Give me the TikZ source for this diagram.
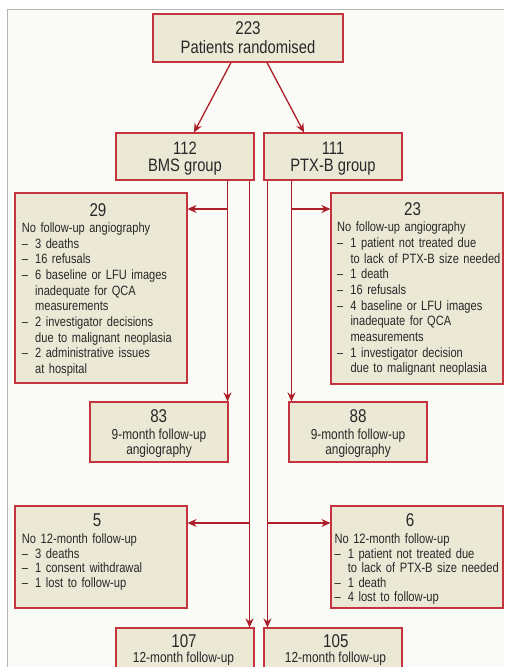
\documentclass[tikz,border=0pt]{standalone}
\usepackage{fontspec}
\setmainfont{Liberation Sans}[FakeStretch=0.82]
\usetikzlibrary{arrows.meta,calc}
\definecolor{boxred}{RGB}{196,52,62}
\definecolor{arrred}{RGB}{172,30,40}
\definecolor{boxfill}{RGB}{236,232,214}
\definecolor{bgcol}{RGB}{250,250,246}
\definecolor{framegray}{RGB}{180,180,180}
\definecolor{txt}{RGB}{40,40,40}
\newcommand\itm[1]{\par\hangindent=13.3pt\hangafter=1\noindent\makebox[13.3pt][l]{–}#1\par}
\begin{document}
\begin{tikzpicture}[x=1pt,y=-1pt,
  box/.style={draw=boxred,fill=boxfill,line width=1.1pt,inner sep=0pt},
  big/.style={anchor=base,inner sep=0pt,text=txt,font=\fontsize{18.5}{20}\selectfont},
  mid/.style={anchor=base,inner sep=0pt,text=txt,font=\fontsize{14.5}{15}\selectfont},
  lsta/.style={anchor=north west,inner sep=0pt,text=txt,align=left,text width=168pt,font=\fontsize{13.5}{15.65}\selectfont},
  lstb/.style={anchor=north west,inner sep=0pt,text=txt,align=left,text width=168pt,font=\fontsize{13.6}{14.5}\selectfont},
  conn/.style={draw=arrred,line width=1.3pt},
  arr/.style={conn,-{Stealth[length=9pt,width=8pt]}}]
\useasboundingbox (0,0) rectangle (504,667);
\clip (0,0) rectangle (504,667);
\fill[white] (0,0) rectangle (504,667);
\draw[framegray,fill=bgcol,line width=1.3pt] (7.5,9.5) rectangle (540,720);
% boxes
\node[box,minimum width=190pt,minimum height=48pt] (top) at (248,38) {};
\node[box,minimum width=138pt,minimum height=47pt] (bms) at (185,156.5) {};
\node[box,minimum width=138pt,minimum height=47pt] (ptx) at (333,156.5) {};
\node[box,minimum width=172pt,minimum height=190pt] (b29) at (101,288) {};
\node[box,minimum width=172pt,minimum height=191pt] (b23) at (417,288.5) {};
\node[box,minimum width=138pt,minimum height=60pt] (b83) at (159,432) {};
\node[box,minimum width=138pt,minimum height=60pt] (b88) at (358,432) {};
\node[box,minimum width=172pt,minimum height=102pt] (b5) at (101,557) {};
\node[box,minimum width=172pt,minimum height=102pt] (b6) at (417,557) {};
\node[box,minimum width=138pt,minimum height=50pt] (b107) at (185,653) {};
\node[box,minimum width=138pt,minimum height=50pt] (b105) at (333,653) {};
% texts
\node[big] (t223) at (248,34.3) {223};
\node[big,font=\fontsize{18}{20}\selectfont] (tpat) at (248,53.3) {Patients randomised};
\node[big,font=\fontsize{18}{20}\selectfont] (t112) at (185,154.3) {112};
\node[big,font=\fontsize{18}{20}\selectfont] (tbms) at (185,171.7) {BMS group};
\node[big,font=\fontsize{18}{20}\selectfont] (t111) at (333,154.3) {111};
\node[big,font=\fontsize{18}{20}\selectfont] (tptx) at (333,171.7) {PTX-B group};
\node[big] (t29) at (98,216.7) {29};
\node[lsta] (l29) at (21.7,221.4) {\strut No follow-up angiography
\itm{3 deaths}
\itm{16 refusals}
\itm{6 baseline or LFU images\newline inadequate for QCA\newline measurements}
\itm{2 investigator decisions\newline due to malignant neoplasia}
\itm{2 administrative issues\newline at hospital}};
\node[big] (t23) at (412.5,215.5) {23};
\node[lsta] (l23) at (337,220.8) {\strut No follow-up angiography
\itm{1 patient not treated due\newline to lack of PTX-B size needed}
\itm{1 death}
\itm{16 refusals}
\itm{4 baseline or LFU images\newline inadequate for QCA\newline measurements}
\itm{1 investigator decision\newline due to malignant neoplasia}};
\node[big] (t83) at (158.7,422.3) {83};
\node[mid] (m83a) at (159,439.3) {9-month follow-up};
\node[mid] (m83b) at (159,454) {angiography};
\node[big] (t88) at (358,422.3) {88};
\node[mid] (m88a) at (358,439.3) {9-month follow-up};
\node[mid] (m88b) at (358,454) {angiography};
\node[big] (t5) at (97.2,526) {5};
\node[lstb] (l5) at (21.7,533.2) {\strut No 12-month follow-up
\itm{3 deaths}
\itm{1 consent withdrawal}
\itm{1 lost to follow-up}};
\node[big] (t6) at (410.2,526) {6};
\node[lstb] (l6) at (334.3,533.2) {\strut No 12-month follow-up
\itm{1 patient not treated due\newline to lack of PTX-B size needed}
\itm{1 death}
\itm{4 lost to follow-up}};
\node[big] (t107) at (184,647.3) {107};
\node[mid] (m107) at (183.5,662.7) {12-month follow-up};
\node[big] (t105) at (335.8,647.3) {105};
\node[mid] (m105) at (335.5,662.7) {12-month follow-up};
% connectors
\draw[arr] ($(top.south)+(-17,0)$) -- ($(bms.north)+(9,0)$);
\draw[arr] ($(top.south)+(19,0)$) -- ($(ptx.north)+(-29,0)$);
\coordinate (la) at ($(bms.south east)+(-27,0)$);
\coordinate (lb) at ($(bms.south east)+(-5,0)$);
\coordinate (ra) at ($(ptx.south west)+(4,0)$);
\coordinate (rb) at ($(ptx.south west)+(28,0)$);
\draw[arr] (la) -- (la |- b83.north);
\draw[arr] (lb) -- (lb |- b107.north);
\draw[arr] (ra) -- (ra |- b105.north);
\draw[arr] (rb) -- (rb |- b88.north);
\coordinate (ya) at (0,209);
\coordinate (yb) at (0,523);
\draw[arr] (la |- ya) -- (b29.east |- ya);
\draw[arr] (rb |- ya) -- (b23.west |- ya);
\draw[arr] (lb |- yb) -- (b5.east |- yb);
\draw[arr] (ra |- yb) -- (b6.west |- yb);
\end{tikzpicture}
\end{document}
